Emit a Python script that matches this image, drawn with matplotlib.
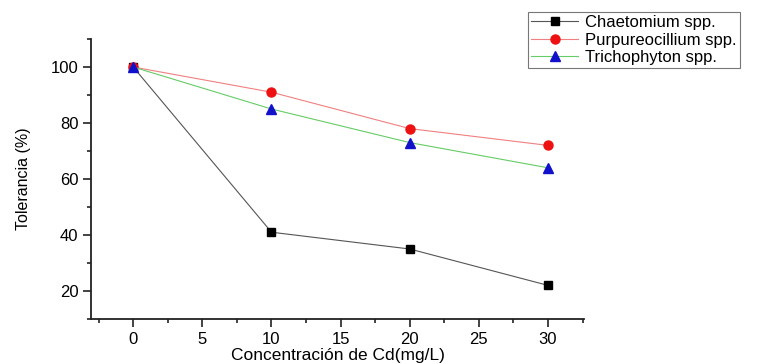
import matplotlib
matplotlib.use("Agg")
import matplotlib.pyplot as plt
from matplotlib.ticker import MultipleLocator

plt.rcParams['font.family'] = ['Liberation Sans', 'DejaVu Sans']

concentration = [0, 10, 20, 30]
chaetomium = [100, 41, 35, 22]
purpureocillium = [100, 91, 78, 72]
trichophyton = [100, 85, 73, 64]
labels = ["Chaetomium spp.", "Purpureocillium spp.", "Trichophyton spp."]

fig = plt.figure(figsize=(7.71, 3.64), dpi=100)
ax = fig.add_axes([91/771, 1-319/364, (584-91)/771, (319-39)/364])

ax.plot(concentration, chaetomium, color='#555555', lw=0.8, marker='s', ms=6,
        mfc='black', mec='black', label=labels[0])
ax.plot(concentration, purpureocillium, color='#f08080', lw=0.8, marker='o', ms=6.5,
        mfc='#ee1111', mec='#ee1111', label=labels[1])
ax.plot(concentration, trichophyton, color='#66cc66', lw=0.8, marker='^', ms=7,
        mfc='#1111cc', mec='#1111cc', label=labels[2])

ax.set_xlim(-3.05, 32.6)
ax.set_ylim(10, 110)
ax.set_xticks([0, 5, 10, 15, 20, 25, 30])
ax.set_yticks([20, 40, 60, 80, 100])
ax.xaxis.set_minor_locator(MultipleLocator(2.5))
ax.yaxis.set_minor_locator(MultipleLocator(10))
ax.tick_params(which='both', direction='out', labelsize=12, width=1.2, color='#222222')
ax.tick_params(which='major', length=6, pad=3)
ax.tick_params(which='minor', length=3)
for s in ['top', 'right']:
    ax.spines[s].set_visible(False)
for s in ['left', 'bottom']:
    ax.spines[s].set_linewidth(1.3)
    ax.spines[s].set_color('#222222')

ax.set_xlabel("Concentración de Cd(mg/L)", fontsize=12.5, labelpad=1)
ax.set_ylabel("Tolerancia (%)", fontsize=11.5, labelpad=14)

leg = fig.legend(loc='upper left', bbox_to_anchor=(528/771, 1-12/364),
                 fontsize=12, frameon=True, fancybox=False, edgecolor='#555555',
                 handlelength=2.8, borderpad=0.2, labelspacing=0.13, handletextpad=0.4,
                 borderaxespad=0)
leg.get_frame().set_linewidth(0.8)

fig.savefig("out.png", dpi=100)
